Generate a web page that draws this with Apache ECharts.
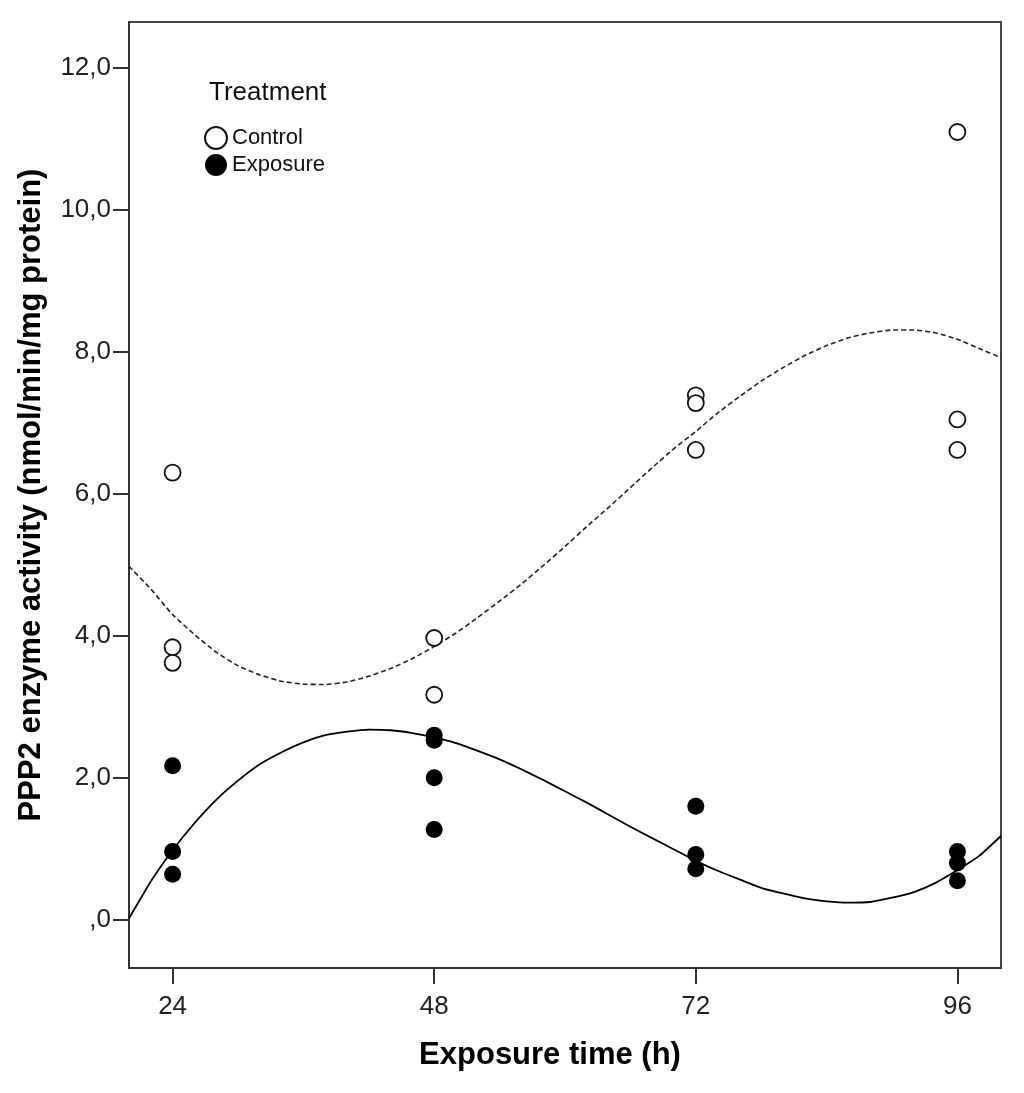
<!DOCTYPE html>
<html>
<head>
<meta charset="utf-8">
<script src="https://cdn.jsdelivr.net/npm/echarts@6/dist/echarts.min.js"></script>
<style>
html,body{margin:0;padding:0;background:#fff;}
#chart{width:1024px;height:1093px;}
</style>
</head>
<body>
<div id="chart"></div>
<script>
// Observed data (hours, activity)
const controlPoints = [
  [24, 6.30], [24, 3.84], [24, 3.62],
  [48, 3.97], [48, 3.17],
  [72, 7.39], [72, 7.28], [72, 6.62],
  [96, 11.10], [96, 7.05], [96, 6.62]
];
const exposurePoints = [
  [24, 2.17], [24, 0.96], [24, 0.64],
  [48, 2.60], [48, 2.53], [48, 2.00], [48, 1.27],
  [72, 1.60], [72, 0.92], [72, 0.72],
  [96, 0.96], [96, 0.80], [96, 0.55]
];
// Fit curves
const fitHours    = [20, 22, 24, 26, 28, 30, 32, 34, 36, 38, 40, 42, 44, 46, 48, 50, 52, 54, 56, 58, 60,
                     62, 64, 66, 68, 70, 72, 74, 76, 78, 80, 82, 84, 86, 88, 90, 92, 94, 96, 98, 100];
const controlFit  = [4.98, 4.66, 4.30, 4.02, 3.77, 3.58, 3.45, 3.36, 3.32, 3.315, 3.35, 3.43, 3.54, 3.68, 3.85, 4.04, 4.26, 4.49, 4.73, 4.99, 5.26,
                     5.54, 5.81, 6.09, 6.37, 6.64, 6.88, 7.14, 7.37, 7.59, 7.78, 7.95, 8.09, 8.20, 8.27, 8.31, 8.31, 8.27, 8.18, 8.05, 7.92];
const exposureFit = [0.02, 0.54, 0.98, 1.36, 1.69, 1.96, 2.19, 2.36, 2.50, 2.60, 2.65, 2.68, 2.67, 2.63, 2.57, 2.49, 2.38, 2.26, 2.12, 1.97, 1.81,
                     1.65, 1.48, 1.31, 1.15, 0.99, 0.83, 0.69, 0.57, 0.45, 0.37, 0.30, 0.26, 0.24, 0.25, 0.31, 0.39, 0.52, 0.70, 0.90, 1.18];
// Tick labels
const xTickValues = [24, 48, 72, 96];
const xTickLabels = ['24', '48', '72', '96'];
const yTickValues = [0, 2, 4, 6, 8, 10, 12];
const yTickLabels = [',0', '2,0', '4,0', '6,0', '8,0', '10,0', '12,0'];

const FONT = '"Liberation Sans", Arial, sans-serif';
const chart = echarts.init(document.getElementById('chart'), null, {renderer: 'canvas'});

const pairs = (xs, ys) => xs.map((x, i) => [x, ys[i]]);

chart.setOption({
  animation: false,
  backgroundColor: '#ffffff',
  textStyle: {fontFamily: FONT},
  title: {
    text: 'Treatment',
    left: 204, top: 75,
    textStyle: {fontFamily: FONT, fontSize: 26, fontWeight: 'normal', color: '#111'}
  },
  legend: {
    data: ['Control', 'Exposure'],
    orient: 'vertical',
    left: 199, top: 121,
    itemWidth: 22, itemHeight: 22, itemGap: 4,
    icon: 'circle',
    textStyle: {fontFamily: FONT, fontSize: 22, color: '#111', padding: [0, 0, 0, 0]}
  },
  grid: {
    left: 129, right: 23, top: 22, bottom: 125,
    show: true, borderColor: '#444', borderWidth: 2, backgroundColor: 'transparent'
  },
  xAxis: {
    type: 'value',
    min: 20, max: 100,
    name: 'Exposure time (h)',
    nameLocation: 'middle',
    nameGap: 72,
    nameTextStyle: {fontFamily: FONT, fontSize: 31, fontWeight: 'bold', color: '#000', padding: [0, 30, 0, 0]},
    axisLine: {show: true, onZero: false, lineStyle: {color: '#333', width: 2}},
    axisTick: {show: true, inside: false, length: 16, customValues: xTickValues, lineStyle: {color: '#333', width: 2}},
    axisLabel: {
      customValues: xTickValues, margin: 26,
      fontFamily: FONT, fontSize: 26, color: '#222',
      formatter: v => xTickLabels[xTickValues.indexOf(v)]
    },
    splitLine: {show: false}
  },
  yAxis: {
    type: 'value',
    min: -0.68, max: 12.65,
    name: 'PPP2 enzyme activity (nmol/min/mg protein)',
    nameLocation: 'middle',
    nameGap: 82,
    nameRotate: 90,
    nameTextStyle: {fontFamily: FONT, fontSize: 31, fontWeight: 'bold', color: '#000'},
    axisLine: {show: true, onZero: false, lineStyle: {color: '#333', width: 2}},
    axisTick: {show: true, inside: false, length: 16, customValues: yTickValues, lineStyle: {color: '#333', width: 2}},
    axisLabel: {
      customValues: yTickValues, margin: 18,
      fontFamily: FONT, fontSize: 26, color: '#222',
      formatter: v => yTickLabels[yTickValues.indexOf(v)]
    },
    splitLine: {show: false}
  },
  series: [
    {
      name: 'Control fit', type: 'line', data: pairs(fitHours, controlFit),
      smooth: 0.15, showSymbol: false, silent: true, z: 1,
      lineStyle: {color: '#222', width: 1.6, type: [5, 3]}
    },
    {
      name: 'Exposure fit', type: 'line', data: pairs(fitHours, exposureFit),
      smooth: 0.15, showSymbol: false, silent: true, z: 1,
      lineStyle: {color: '#000', width: 1.8, type: 'solid'}
    },
    {
      name: 'Control', type: 'scatter', data: controlPoints, z: 3,
      symbol: 'circle', symbolSize: 16,
      itemStyle: {color: '#ffffff', borderColor: '#111', borderWidth: 1.8, opacity: 1}
    },
    {
      name: 'Exposure', type: 'scatter', data: exposurePoints, z: 4,
      symbol: 'circle', symbolSize: 17,
      itemStyle: {color: '#000000', borderColor: '#000', borderWidth: 0, opacity: 1}
    }
  ]
});
</script>
</body>
</html>
